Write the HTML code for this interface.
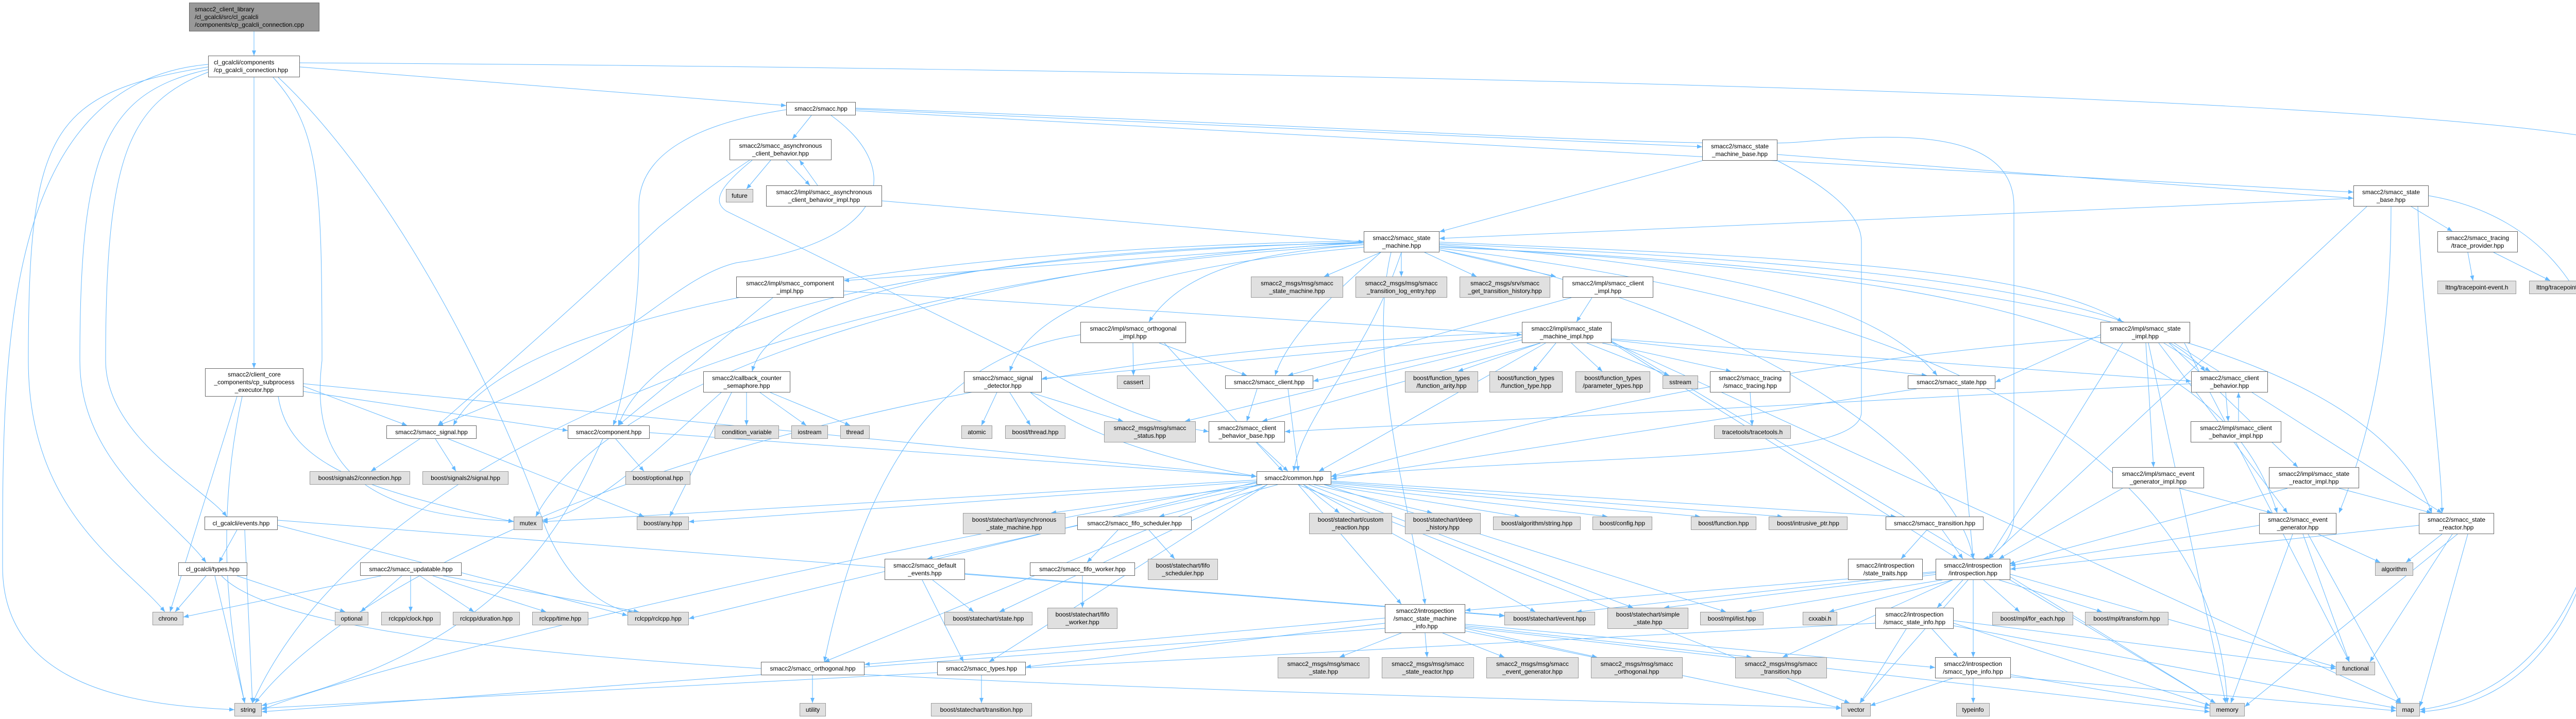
<!DOCTYPE html>
<html><head><meta charset="utf-8"><style>
html,body{margin:0;padding:0;background:#fff}
#c{position:relative;width:5119px;height:1396px;overflow:hidden;font-family:"Liberation Sans",Arial,sans-serif;font-size:12px;color:#000}
.n{position:absolute;box-sizing:border-box;border:1px solid #666;background:#fff;display:flex;align-items:center;justify-content:center;text-align:center;line-height:15px;white-space:nowrap}
.g{background:#e0e0e0;border-color:#999}
.r{background:#999;border-color:#666;justify-content:flex-start;text-align:left;padding-left:10px}
.l{justify-content:flex-start;text-align:left;padding-left:10px}
svg{position:absolute;left:0;top:0}
</style></head><body><div id="c">
<svg width="5119" height="1396" viewBox="0 0 5119 1396">
<defs><marker id="a" markerUnits="userSpaceOnUse" markerWidth="10" markerHeight="8" refX="10" refY="4" orient="auto"><path d="M0,0L10,4L0,8z" fill="#63b8ff"/></marker></defs>
<g fill="none" stroke="#63b8ff" stroke-width="1" marker-end="url(#a)">
<path d="M493,61L493,108"/>
<path d="M404,125C0,160 5,700 5,1100C5,1350 300,1370 455,1378"/>
<path d="M404,130C100,180 55,250 55,700C55,1000 250,1100 320,1188"/>
<path d="M404,135C200,180 155,300 155,700C155,900 330,1000 400,1092"/>
<path d="M404,140C250,200 205,300 205,700C205,850 400,950 440,1003"/>
<path d="M530,150C620,250 625,350 625,700C600,900 700,1000 997,1012"/>
<path d="M493,150L493,715"/>
<path d="M582,122C2000,130 4500,170 5050,270C5110,290 5113,300 5113,400C5100,900 5050,1330 4697,1378"/>
<path d="M582,130L1526,205"/>
<path d="M540,150C700,300 900,600 1050,1000C1100,1150 1200,1190 1230,1188"/>
<path d="M1575,224L1538,270"/>
<path d="M1661,212L3304,285"/>
<path d="M1661,215L4568,373"/>
<path d="M1661,210C2500,240 3300,290 3490,276C3650,262 3909,240 3909,400L3909,1000C3909,1050 3870,1080 3850,1085"/>
<path d="M1613,224C1760,330 1720,470 1430,510C1300,540 1200,700 850,826"/>
<path d="M1526,213C1350,240 1240,300 1240,400L1240,500C1240,600 1210,780 1190,826"/>
<path d="M1496,311L1449,367"/>
<path d="M1526,311L1572,360"/>
<path d="M1587,360L1552,311"/>
<path d="M1460,311C1400,360 1380,390 1410,410L2000,700C2200,820 2300,830 2346,838"/>
<path d="M1455,311C1380,360 1330,400 1280,440C1000,700 900,780 850,826"/>
<path d="M1712,390L2647,470"/>
<path d="M3304,312L2794,450"/>
<path d="M3450,312C3580,380 3613,430 3613,470L3613,800C3613,900 3100,880 2584,925"/>
<path d="M3450,300L4568,385"/>
<path d="M4568,385L2794,463"/>
<path d="M4680,401L4760,449"/>
<path d="M4594,401L3860,1085"/>
<path d="M4641,401C4641,600 4620,800 4540,996"/>
<path d="M4693,401C4700,600 4740,900 4740,996"/>
<path d="M4714,380C4950,420 5060,600 5060,800C5060,1200 4900,1370 4697,1382"/>
<path d="M4790,490L4800,545"/>
<path d="M4840,490L4950,545"/>
<path d="M2680,490L2570,537"/>
<path d="M2720,490L2720,537"/>
<path d="M2765,490L2866,537"/>
<path d="M2794,485L3020,537"/>
<path d="M2794,470C3500,500 3950,520 4120,625"/>
<path d="M2794,475C3400,520 3650,600 3760,729"/>
<path d="M2794,473C3600,510 4150,560 4280,721"/>
<path d="M2794,478C3700,530 4300,600 4420,996"/>
<path d="M2794,480C3800,520 4600,650 4720,996"/>
<path d="M2720,490C2650,700 2530,800 2511,915"/>
<path d="M2647,470L1638,545"/>
<path d="M2647,475C2450,490 2300,520 2230,625"/>
<path d="M2647,472C2000,480 1500,560 1460,721"/>
<path d="M2647,468C1800,480 1000,600 880,826"/>
<path d="M2647,470C2000,490 1300,560 1200,826"/>
<path d="M2647,472C2000,500 1200,700 1040,1003"/>
<path d="M2647,475C1500,540 700,900 490,1365"/>
<path d="M2794,482C3800,600 4300,900 4323,1365"/>
<path d="M2647,480C2200,520 2000,600 1960,721"/>
<path d="M2680,490C2600,560 2500,650 2475,729"/>
<path d="M2700,490C2650,700 2740,1000 2766,1173"/>
<path d="M2794,485C3400,600 3800,900 3830,1085"/>
<path d="M1500,578L1200,826"/>
<path d="M1638,565L2954,650"/>
<path d="M3090,578L3060,625"/>
<path d="M3050,578L2500,729"/>
<path d="M2199,666L2200,729"/>
<path d="M2250,666L2420,729"/>
<path d="M2097,650C1900,680 1700,800 1600,1285"/>
<path d="M2260,666L2490,915"/>
<path d="M2990,666L2830,721"/>
<path d="M3020,666L2975,721"/>
<path d="M3050,666L3110,721"/>
<path d="M3080,666L3240,729"/>
<path d="M3110,666L3360,721"/>
<path d="M3128,660L3740,729"/>
<path d="M2954,650L2022,735"/>
<path d="M2954,655L2549,740"/>
<path d="M2954,660L2300,818"/>
<path d="M2990,666L2450,818"/>
<path d="M3000,666L2560,915"/>
<path d="M3128,665L3800,1085"/>
<path d="M2954,645C1500,700 700,1100 495,1365"/>
<path d="M3128,662L4300,1365"/>
<path d="M3128,664L4660,1365"/>
<path d="M3128,658L4253,740"/>
<path d="M4077,650L3873,742"/>
<path d="M4200,666L4290,721"/>
<path d="M4165,666L4180,907"/>
<path d="M4210,666L4460,907"/>
<path d="M4190,666L4440,996"/>
<path d="M4220,666L4740,996"/>
<path d="M4120,666L3860,1085"/>
<path d="M4077,655C3500,700 3000,800 2584,925"/>
<path d="M4240,666L4560,1285"/>
<path d="M4170,666L4320,1365"/>
<path d="M589,750L790,826"/>
<path d="M589,760L1102,836"/>
<path d="M540,770C560,900 700,950 997,1013"/>
<path d="M470,770C420,1000 440,1200 475,1365"/>
<path d="M460,770L330,1188"/>
<path d="M589,745L2439,925"/>
<path d="M1449,762L1449,826"/>
<path d="M1475,762L1565,826"/>
<path d="M1495,762L1650,826"/>
<path d="M1400,762C1300,850 1150,1000 1053,1010"/>
<path d="M1420,762L1300,1003"/>
<path d="M1935,762L1905,826"/>
<path d="M1960,762L2000,826"/>
<path d="M2000,762L2180,818"/>
<path d="M2000,762C2100,850 2300,900 2439,925"/>
<path d="M2500,755L2520,915"/>
<path d="M2440,755L2420,818"/>
<path d="M3397,762L3401,826"/>
<path d="M3720,755L2584,930"/>
<path d="M3800,755L3830,1085"/>
<path d="M4320,762L4325,818"/>
<path d="M4345,818L4345,762"/>
<path d="M4253,745L2494,838"/>
<path d="M815,852L720,915"/>
<path d="M845,852L885,915"/>
<path d="M870,852L1250,1003"/>
<path d="M1195,852L1250,915"/>
<path d="M1261,840L2439,925"/>
<path d="M1170,852C1100,1000 1000,1250 508,1370"/>
<path d="M2440,859L2500,915"/>
<path d="M2439,935L1337,1013"/>
<path d="M2450,941L2040,996"/>
<path d="M2480,941L2250,1003"/>
<path d="M2530,941L2600,996"/>
<path d="M2550,941L2780,996"/>
<path d="M2570,941L2950,1003"/>
<path d="M2584,941L3120,1003"/>
<path d="M2584,938L3300,1003"/>
<path d="M2584,936L3460,1003"/>
<path d="M2584,934L3680,1003"/>
<path d="M2450,941L1800,1085"/>
<path d="M2460,941L1940,1188"/>
<path d="M2530,941L2980,1188"/>
<path d="M2540,941L3170,1180"/>
<path d="M2570,941L3350,1188"/>
<path d="M2520,941L2720,1173"/>
<path d="M2439,941L1600,1285"/>
<path d="M2460,941L1920,1285"/>
<path d="M2439,938C1500,1100 700,1300 508,1378"/>
<path d="M2439,936L1337,1201"/>
<path d="M2439,932L1053,1013"/>
<path d="M2520,941L3590,1365"/>
<path d="M2170,1029L2110,1092"/>
<path d="M2230,1029L2280,1085"/>
<path d="M2101,1118L2101,1180"/>
<path d="M1810,1126L1890,1188"/>
<path d="M1790,1126L1870,1285"/>
<path d="M1873,1115L2920,1196"/>
<path d="M3740,1029L3690,1085"/>
<path d="M3770,1029L3810,1085"/>
<path d="M3757,1110L2844,1185"/>
<path d="M3757,1112L3060,1188"/>
<path d="M3760,1115L3230,1180"/>
<path d="M3770,1126L3390,1188"/>
<path d="M3790,1126L3550,1188"/>
<path d="M3810,1126L3760,1180"/>
<path d="M3850,1126L3920,1188"/>
<path d="M3880,1126L4080,1188"/>
<path d="M3830,1126L3830,1276"/>
<path d="M3820,1126L3610,1365"/>
<path d="M3902,1115L4534,1295"/>
<path d="M3790,1126L3460,1276"/>
<path d="M3902,1120L4300,1365"/>
<path d="M3750,1221L3800,1276"/>
<path d="M3700,1221L3610,1365"/>
<path d="M3792,1210L4290,1370"/>
<path d="M3792,1215L4651,1375"/>
<path d="M3792,1205L4534,1298"/>
<path d="M3640,1210L508,1375"/>
<path d="M3790,1317L3630,1370"/>
<path d="M3830,1317L3830,1365"/>
<path d="M3903,1310L4289,1375"/>
<path d="M3903,1314L4651,1380"/>
<path d="M2720,1229L2600,1276"/>
<path d="M2766,1229L2770,1276"/>
<path d="M2800,1229L2920,1276"/>
<path d="M2844,1220L3100,1276"/>
<path d="M2844,1215L3400,1276"/>
<path d="M2688,1200L1678,1290"/>
<path d="M2688,1210L1991,1295"/>
<path d="M2688,1220L508,1382"/>
<path d="M2844,1225L3574,1375"/>
<path d="M2844,1218L4289,1382"/>
<path d="M2844,1212L3756,1296"/>
<path d="M4230,948L4410,996"/>
<path d="M4120,948L3880,1085"/>
<path d="M4540,948L4720,996"/>
<path d="M4440,948L3900,1095"/>
<path d="M4500,1037L4620,1092"/>
<path d="M4385,1020L3902,1098"/>
<path d="M4470,1037L4560,1285"/>
<path d="M4450,1037L4330,1365"/>
<path d="M4480,1037L4660,1365"/>
<path d="M4740,1037L4670,1092"/>
<path d="M4695,1020L3902,1105"/>
<path d="M4760,1037L4600,1285"/>
<path d="M4770,1037L4357,1372"/>
<path d="M4790,1037L4697,1372"/>
<path d="M460,1029L425,1092"/>
<path d="M475,1029L490,1365"/>
<path d="M539,1010L2920,1195"/>
<path d="M539,1020L1218,1195"/>
<path d="M400,1118L340,1188"/>
<path d="M417,1118L475,1365"/>
<path d="M460,1118L670,1188"/>
<path d="M430,1118C600,1300 2000,1330 3574,1375"/>
<path d="M740,1118L356,1198"/>
<path d="M780,1118L700,1188"/>
<path d="M797,1118L797,1188"/>
<path d="M815,1118L920,1188"/>
<path d="M840,1118L1060,1188"/>
<path d="M860,1118L1240,1188"/>
<path d="M1577,1311L1577,1365"/>
<path d="M1905,1311L1905,1365"/>
</g></svg>

<div class="n r" style="left:367px;top:5px;width:253px;height:56px">smacc2_client_library<br>/cl_gcalcli/src/cl_gcalcli<br>/components/cp_gcalcli_connection.cpp</div>
<div class="n l" style="left:404px;top:108px;width:178px;height:42px">cl_gcalcli/components<br>/cp_gcalcli_connection.hpp</div>
<div class="n" style="left:1526px;top:198px;width:135px;height:26px">smacc2/smacc.hpp</div>
<div class="n" style="left:1416px;top:270px;width:198px;height:41px">smacc2/smacc_asynchronous<br>_client_behavior.hpp</div>
<div class="n g" style="left:1409px;top:367px;width:53px;height:26px">future</div>
<div class="n" style="left:1487px;top:360px;width:225px;height:41px">smacc2/impl/smacc_asynchronous<br>_client_behavior_impl.hpp</div>
<div class="n" style="left:3304px;top:271px;width:146px;height:41px">smacc2/smacc_state<br>_machine_base.hpp</div>
<div class="n" style="left:4568px;top:360px;width:146px;height:41px">smacc2/smacc_state<br>_base.hpp</div>
<div class="n" style="left:4731px;top:449px;width:156px;height:41px">smacc2/smacc_tracing<br>/trace_provider.hpp</div>
<div class="n g" style="left:4731px;top:545px;width:153px;height:26px">lttng/tracepoint-event.h</div>
<div class="n g" style="left:4909px;top:545px;width:117px;height:26px">lttng/tracepoint.h</div>
<div class="n" style="left:2647px;top:449px;width:147px;height:41px">smacc2/smacc_state<br>_machine.hpp</div>
<div class="n" style="left:1429px;top:537px;width:209px;height:41px">smacc2/impl/smacc_component<br>_impl.hpp</div>
<div class="n g" style="left:2428px;top:537px;width:179px;height:41px">smacc2_msgs/msg/smacc<br>_state_machine.hpp</div>
<div class="n g" style="left:2631px;top:537px;width:178px;height:41px">smacc2_msgs/msg/smacc<br>_transition_log_entry.hpp</div>
<div class="n g" style="left:2833px;top:537px;width:176px;height:41px">smacc2_msgs/srv/smacc<br>_get_transition_history.hpp</div>
<div class="n" style="left:3033px;top:537px;width:176px;height:41px">smacc2/impl/smacc_client<br>_impl.hpp</div>
<div class="n" style="left:2097px;top:625px;width:205px;height:41px">smacc2/impl/smacc_orthogonal<br>_impl.hpp</div>
<div class="n" style="left:2954px;top:625px;width:174px;height:41px">smacc2/impl/smacc_state<br>_machine_impl.hpp</div>
<div class="n" style="left:4077px;top:625px;width:174px;height:41px">smacc2/impl/smacc_state<br>_impl.hpp</div>
<div class="n" style="left:398px;top:715px;width:191px;height:55px">smacc2/client_core<br>_components/cp_subprocess<br>_executor.hpp</div>
<div class="n" style="left:1365px;top:721px;width:169px;height:41px">smacc2/callback_counter<br>_semaphore.hpp</div>
<div class="n" style="left:1871px;top:721px;width:151px;height:41px">smacc2/smacc_signal<br>_detector.hpp</div>
<div class="n g" style="left:2168px;top:729px;width:64px;height:26px">cassert</div>
<div class="n" style="left:2378px;top:729px;width:171px;height:26px">smacc2/smacc_client.hpp</div>
<div class="n g" style="left:2727px;top:721px;width:142px;height:41px">boost/function_types<br>/function_arity.hpp</div>
<div class="n g" style="left:2891px;top:721px;width:142px;height:41px">boost/function_types<br>/function_type.hpp</div>
<div class="n g" style="left:3058px;top:721px;width:145px;height:41px">boost/function_types<br>/parameter_types.hpp</div>
<div class="n g" style="left:3227px;top:729px;width:69px;height:26px">sstream</div>
<div class="n" style="left:3319px;top:721px;width:156px;height:41px">smacc2/smacc_tracing<br>/smacc_tracing.hpp</div>
<div class="n" style="left:3703px;top:729px;width:170px;height:26px">smacc2/smacc_state.hpp</div>
<div class="n" style="left:4253px;top:721px;width:149px;height:41px">smacc2/smacc_client<br>_behavior.hpp</div>
<div class="n" style="left:750px;top:826px;width:175px;height:26px">smacc2/smacc_signal.hpp</div>
<div class="n" style="left:1102px;top:826px;width:159px;height:26px">smacc2/component.hpp</div>
<div class="n g" style="left:1387px;top:826px;width:125px;height:26px">condition_variable</div>
<div class="n g" style="left:1536px;top:826px;width:71px;height:26px">iostream</div>
<div class="n g" style="left:1631px;top:826px;width:57px;height:26px">thread</div>
<div class="n g" style="left:1866px;top:826px;width:60px;height:26px">atomic</div>
<div class="n g" style="left:1951px;top:826px;width:117px;height:26px">boost/thread.hpp</div>
<div class="n g" style="left:2143px;top:818px;width:178px;height:41px">smacc2_msgs/msg/smacc<br>_status.hpp</div>
<div class="n" style="left:2346px;top:818px;width:148px;height:41px">smacc2/smacc_client<br>_behavior_base.hpp</div>
<div class="n g" style="left:3327px;top:826px;width:149px;height:26px">tracetools/tracetools.h</div>
<div class="n" style="left:4252px;top:818px;width:176px;height:41px">smacc2/impl/smacc_client<br>_behavior_impl.hpp</div>
<div class="n g" style="left:601px;top:915px;width:195px;height:26px">boost/signals2/connection.hpp</div>
<div class="n g" style="left:820px;top:915px;width:167px;height:26px">boost/signals2/signal.hpp</div>
<div class="n g" style="left:1214px;top:915px;width:126px;height:26px">boost/optional.hpp</div>
<div class="n" style="left:2439px;top:915px;width:145px;height:26px">smacc2/common.hpp</div>
<div class="n" style="left:4100px;top:907px;width:178px;height:41px">smacc2/impl/smacc_event<br>_generator_impl.hpp</div>
<div class="n" style="left:4404px;top:907px;width:175px;height:41px">smacc2/impl/smacc_state<br>_reactor_impl.hpp</div>
<div class="n g" style="left:997px;top:1003px;width:56px;height:26px">mutex</div>
<div class="n g" style="left:1236px;top:1003px;width:101px;height:26px">boost/any.hpp</div>
<div class="n" style="left:397px;top:1003px;width:142px;height:26px">cl_gcalcli/events.hpp</div>
<div class="n g" style="left:1869px;top:996px;width:199px;height:41px">boost/statechart/asynchronous<br>_state_machine.hpp</div>
<div class="n" style="left:2091px;top:1003px;width:222px;height:26px">smacc2/smacc_fifo_scheduler.hpp</div>
<div class="n g" style="left:2541px;top:996px;width:161px;height:41px">boost/statechart/custom<br>_reaction.hpp</div>
<div class="n g" style="left:2727px;top:996px;width:147px;height:41px">boost/statechart/deep<br>_history.hpp</div>
<div class="n g" style="left:2898px;top:1003px;width:170px;height:26px">boost/algorithm/string.hpp</div>
<div class="n g" style="left:3091px;top:1003px;width:116px;height:26px">boost/config.hpp</div>
<div class="n g" style="left:3282px;top:1003px;width:127px;height:26px">boost/function.hpp</div>
<div class="n g" style="left:3433px;top:1003px;width:153px;height:26px">boost/intrusive_ptr.hpp</div>
<div class="n" style="left:3660px;top:1003px;width:190px;height:26px">smacc2/smacc_transition.hpp</div>
<div class="n" style="left:4385px;top:996px;width:150px;height:41px">smacc2/smacc_event<br>_generator.hpp</div>
<div class="n" style="left:4695px;top:996px;width:146px;height:41px">smacc2/smacc_state<br>_reactor.hpp</div>
<div class="n" style="left:1717px;top:1085px;width:156px;height:41px">smacc2/smacc_default<br>_events.hpp</div>
<div class="n" style="left:1999px;top:1092px;width:204px;height:26px">smacc2/smacc_fifo_worker.hpp</div>
<div class="n g" style="left:2228px;top:1085px;width:136px;height:41px">boost/statechart/fifo<br>_scheduler.hpp</div>
<div class="n" style="left:3587px;top:1085px;width:145px;height:41px">smacc2/introspection<br>/state_traits.hpp</div>
<div class="n" style="left:3757px;top:1085px;width:145px;height:41px">smacc2/introspection<br>/introspection.hpp</div>
<div class="n g" style="left:4610px;top:1092px;width:74px;height:26px">algorithm</div>
<div class="n" style="left:346px;top:1092px;width:134px;height:26px">cl_gcalcli/types.hpp</div>
<div class="n" style="left:699px;top:1092px;width:197px;height:26px">smacc2/smacc_updatable.hpp</div>
<div class="n g" style="left:296px;top:1188px;width:60px;height:26px">chrono</div>
<div class="n g" style="left:650px;top:1188px;width:65px;height:26px">optional</div>
<div class="n g" style="left:740px;top:1188px;width:115px;height:26px">rclcpp/clock.hpp</div>
<div class="n g" style="left:879px;top:1188px;width:130px;height:26px">rclcpp/duration.hpp</div>
<div class="n g" style="left:1033px;top:1188px;width:109px;height:26px">rclcpp/time.hpp</div>
<div class="n g" style="left:1218px;top:1188px;width:119px;height:26px">rclcpp/rclcpp.hpp</div>
<div class="n g" style="left:1833px;top:1188px;width:171px;height:26px">boost/statechart/state.hpp</div>
<div class="n g" style="left:2033px;top:1180px;width:136px;height:41px">boost/statechart/fifo<br>_worker.hpp</div>
<div class="n" style="left:2688px;top:1173px;width:156px;height:56px">smacc2/introspection<br>/smacc_state_machine<br>_info.hpp</div>
<div class="n g" style="left:2920px;top:1188px;width:176px;height:26px">boost/statechart/event.hpp</div>
<div class="n g" style="left:3120px;top:1180px;width:157px;height:41px">boost/statechart/simple<br>_state.hpp</div>
<div class="n g" style="left:3300px;top:1188px;width:123px;height:26px">boost/mpl/list.hpp</div>
<div class="n g" style="left:3499px;top:1188px;width:67px;height:26px">cxxabi.h</div>
<div class="n" style="left:3640px;top:1180px;width:152px;height:41px">smacc2/introspection<br>/smacc_state_info.hpp</div>
<div class="n g" style="left:3867px;top:1188px;width:157px;height:26px">boost/mpl/for_each.hpp</div>
<div class="n g" style="left:4047px;top:1188px;width:162px;height:26px">boost/mpl/transform.hpp</div>
<div class="n" style="left:1477px;top:1285px;width:201px;height:26px">smacc2/smacc_orthogonal.hpp</div>
<div class="n" style="left:1819px;top:1285px;width:172px;height:26px">smacc2/smacc_types.hpp</div>
<div class="n g" style="left:2480px;top:1276px;width:178px;height:41px">smacc2_msgs/msg/smacc<br>_state.hpp</div>
<div class="n g" style="left:2682px;top:1276px;width:179px;height:41px">smacc2_msgs/msg/smacc<br>_state_reactor.hpp</div>
<div class="n g" style="left:2885px;top:1276px;width:179px;height:41px">smacc2_msgs/msg/smacc<br>_event_generator.hpp</div>
<div class="n g" style="left:3088px;top:1276px;width:178px;height:41px">smacc2_msgs/msg/smacc<br>_orthogonal.hpp</div>
<div class="n g" style="left:3368px;top:1276px;width:178px;height:41px">smacc2_msgs/msg/smacc<br>_transition.hpp</div>
<div class="n" style="left:3756px;top:1276px;width:147px;height:41px">smacc2/introspection<br>/smacc_type_info.hpp</div>
<div class="n g" style="left:4534px;top:1285px;width:76px;height:26px">functional</div>
<div class="n g" style="left:455px;top:1365px;width:53px;height:26px">string</div>
<div class="n g" style="left:1552px;top:1365px;width:51px;height:26px">utility</div>
<div class="n g" style="left:1807px;top:1365px;width:196px;height:26px">boost/statechart/transition.hpp</div>
<div class="n g" style="left:3574px;top:1365px;width:57px;height:26px">vector</div>
<div class="n g" style="left:3797px;top:1365px;width:65px;height:26px">typeinfo</div>
<div class="n g" style="left:4289px;top:1365px;width:68px;height:26px">memory</div>
<div class="n g" style="left:4651px;top:1365px;width:46px;height:26px">map</div>
</div></body></html>
